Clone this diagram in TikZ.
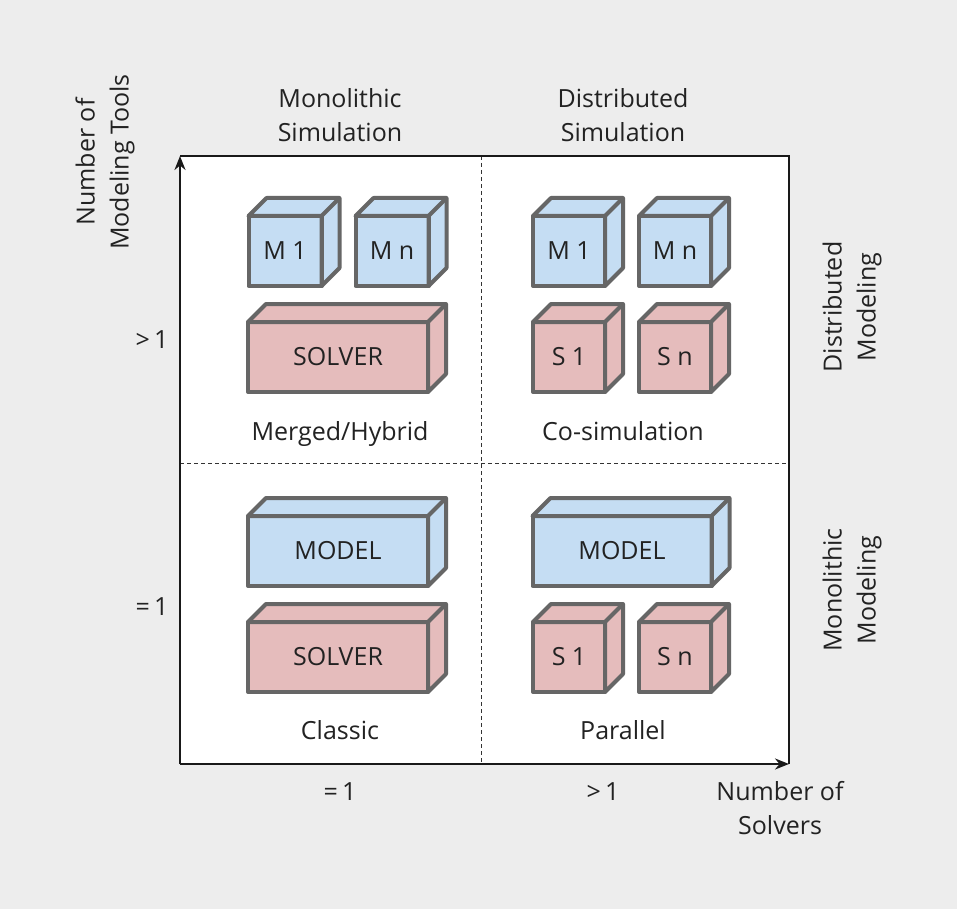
\documentclass[tikz,border=0pt]{standalone}
\usepackage{fontspec}
\setmainfont{Open Sans}
\usetikzlibrary{arrows.meta}
\definecolor{bgc}{HTML}{EDEDED}
\definecolor{cgray}{HTML}{666666}
\definecolor{mblue}{HTML}{C5DDF3}
\definecolor{spink}{HTML}{E5BCBC}
\definecolor{txt}{HTML}{222222}
\tikzset{
  cubeface/.style={draw=cgray, line width=4pt, line join=round, inner sep=0pt, outer sep=0pt, font=\fontsize{25}{30}\selectfont, text=txt},
  lbl/.style={font=\fontsize{25}{34}\selectfont, text=txt, align=center, inner sep=0pt},
  axis/.style={line width=2.2pt, draw=black!90, -{Stealth[length=14pt,width=11pt]}},
  frameline/.style={line width=1.6pt, draw=black!90},
  divider/.style={dashed, line width=0.9pt, draw=black!80, dash pattern=on 4pt off 3pt}
}
\newcommand\mycube[7]{%
  \node[cubeface, fill=#6, minimum width=#4pt, minimum height=#5pt] (#1) at (#2,#3) {#7};
  \filldraw[draw=cgray, fill=#6, line width=4pt, line join=round]
    (#1.north west) -- ++(18,-18) -- ++(#4,0) -- ++(0,#5) -- ++(-18,18) -- (#1.north east) -- cycle;
  \draw[draw=cgray, line width=4pt, line join=round] (#1.north east) -- ++(18,-18);
  \draw[draw=cgray, line width=4pt, line join=round] (#1.north west) -- (#1.north east) -- (#1.south east);
}
\begin{document}
\begin{tikzpicture}[x=1pt,y=-1pt]
\fill[bgc] (0,0) rectangle (957,909);
\useasboundingbox (0,0) rectangle (957,909);
\coordinate (tl) at (180,156);
\coordinate (tr) at (789,156);
\coordinate (br) at (789,764);
\coordinate (bl) at (180,764);
\fill[white] (tl) rectangle (br);
\coordinate (vt) at (481,156);
\coordinate (vb) at (481,764);
\coordinate (hl) at (180,463);
\coordinate (hr) at (789,463);
\draw[divider] (vt) -- (vb);
\draw[divider] (hl) -- (hr);
\draw[frameline] (tl) -- (tr) -- (br);
\draw[axis] (bl) -- (tl);
\draw[axis] (bl) -- (br);

% top-left
\mycube{tlm1}{285}{251}{73}{70}{mblue}{M 1}
\mycube{tlmn}{392}{251}{73}{70}{mblue}{M n}
\mycube{tls}{338}{357}{180}{70}{spink}{SOLVER}
% top-right
\mycube{trm1}{569}{251}{72}{70}{mblue}{M 1}
\mycube{trmn}{675}{251}{72}{70}{mblue}{M n}
\mycube{trs1}{569}{357}{72}{70}{spink}{S 1}
\mycube{trsn}{675}{357}{72}{70}{spink}{S n}
% bottom-left
\mycube{blm}{338}{551}{180}{70}{mblue}{MODEL}
\mycube{bls}{338}{657}{180}{70}{spink}{SOLVER}
% bottom-right
\mycube{brm}{622}{551}{179}{70}{mblue}{MODEL}
\mycube{brs1}{569}{657}{72}{70}{spink}{S 1}
\mycube{brsn}{675}{657}{72}{70}{spink}{S n}

% quadrant labels
\node[lbl, anchor=base] (l1) at (340,440) {Merged/Hybrid};
\node[lbl, anchor=base] (l2) at (623,440) {Co-simulation};
\node[lbl, anchor=base] (l3) at (340,739) {Classic};
\node[lbl, anchor=base] (l4) at (623,739) {Parallel};
% column titles
\node[lbl] (c1) at (340,115) {Monolithic\\Simulation};
\node[lbl] (c2) at (623,115) {Distributed\\Simulation};
% row titles
\node[lbl, rotate=90] (r1) at (852,307) {Distributed\\Modeling};
\node[lbl, rotate=90] (r2) at (852,590) {Monolithic\\Modeling};
% axis labels
\node[lbl, rotate=90] (ya) at (105,162) {Number of\\Modeling Tools};
\node[lbl] (xa) at (780,808) {Number of\\Solvers};
\node[lbl] (y1) at (152,340) {>\,1};
\node[lbl] (y2) at (152,607) {=\,1};
\node[lbl] (x1) at (340,792) {=\,1};
\node[lbl] (x2) at (603,792) {>\,1};
\end{tikzpicture}
\end{document}
